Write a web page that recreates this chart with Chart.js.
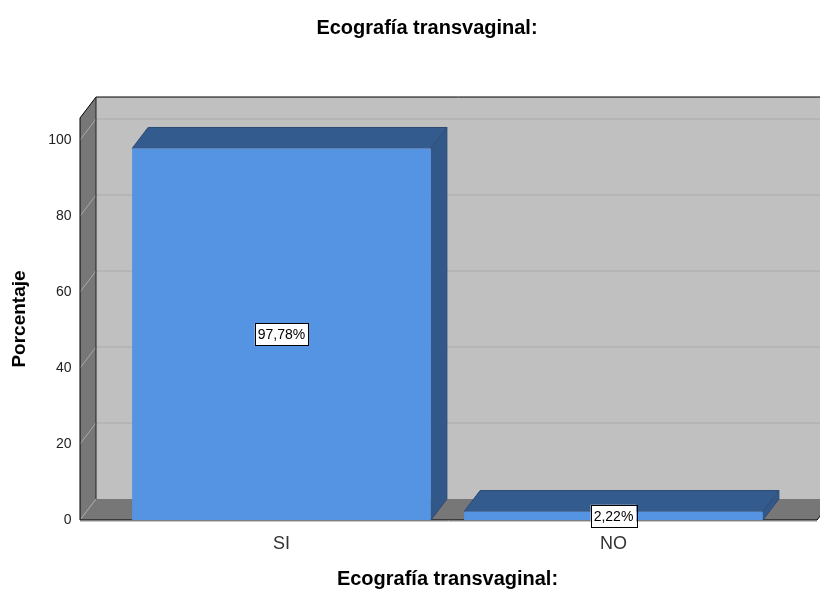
<!DOCTYPE html>
<html lang="es">
<head>
<meta charset="utf-8">
<title>Ecografía transvaginal</title>
<script src="https://cdn.jsdelivr.net/npm/chart.js@4.4.1/dist/chart.umd.min.js"></script>
<style>
    html, body { margin: 0; padding: 0; background: #fff; }
</style>
</head>
<body>
<canvas id="chart" width="820" height="591"></canvas>
<script>
const chartTitle = 'Ecografía transvaginal:';
const categories = ['SI', 'NO'];
const porcentajes = [97.78, 2.22];
const yTicks = [0, 20, 40, 60, 80, 100];
const yMax = 105.8;

const FONT = '"Liberation Sans", Arial, sans-serif';
const DX = 16, DY = 21;            // offset of the back plane
const PAD_L = 35.5, PAD_R = 37.5;  // front frame reaches past chartArea

function poly(ctx, pts, fill) {
    ctx.beginPath();
    ctx.moveTo(pts[0][0], pts[0][1]);
    pts.slice(1).forEach(p => ctx.lineTo(p[0], p[1]));
    ctx.closePath();
    ctx.fillStyle = fill;
    ctx.fill();
}

function line(ctx, x1, y1, x2, y2, color, w) {
    ctx.beginPath();
    ctx.moveTo(x1, y1);
    ctx.lineTo(x2, y2);
    ctx.strokeStyle = color;
    ctx.lineWidth = w || 1;
    ctx.stroke();
}

const box3d = {
    id: 'box3d',
    beforeDatasetsDraw(chart) {
        const { ctx, chartArea: a, scales: { y } } = chart;
        const fl = a.left - PAD_L, fr = a.right + PAD_R;
        const top = a.top, bot = a.bottom;
        ctx.save();

        // back wall + grid
        poly(ctx, [[fl + DX, top - DY], [fr + DX, top - DY], [fr + DX, bot - DY], [fl + DX, bot - DY]], '#c0c0c0');
        yTicks.filter(v => v > 0).forEach(v => {
            const yy = y.getPixelForValue(v) - DY;
            line(ctx, fl + DX, yy, fr + DX, yy, '#b2b2b2', 1.5);
        });

        // floor and left wall
        poly(ctx, [[fl, bot], [fr, bot], [fr + DX, bot - DY], [fl + DX, bot - DY]], '#777777');
        poly(ctx, [[fl, bot], [fl, top], [fl + DX, top - DY], [fl + DX, bot - DY]], '#777777');
        yTicks.forEach(v => {
            const yy = y.getPixelForValue(v);
            line(ctx, fl, yy, fl + DX, yy - DY, '#a8a8a8', 1);
        });

        // edges
        line(ctx, fl, top, fl + DX, top - DY, '#000');
        line(ctx, fl + DX, top - DY, fr + DX, top - DY, '#000');
        line(ctx, fl, top, fl, bot, '#000');
        line(ctx, fl + DX, top - DY, fl + DX, bot - DY, '#222');
        line(ctx, fl, bot, fr, bot, '#000');
        line(ctx, fr, bot, fr + DX, bot - DY, '#000');
        line(ctx, fl, bot + 1.5, fr, bot + 1.5, '#c8c8c8');

        // main title
        ctx.fillStyle = '#000';
        ctx.font = 'bold 20px ' + FONT;
        ctx.textAlign = 'center';
        ctx.textBaseline = 'middle';
        ctx.fillText(chartTitle, 427, 28);
        ctx.restore();
    },
    afterDatasetsDraw(chart) {
        const { ctx } = chart;
        const bars = chart.getDatasetMeta(0).data;
        ctx.save();
        bars.forEach((bar, i) => {
            const x0 = bar.x - bar.width / 2, x1 = bar.x + bar.width / 2;
            const yt = bar.y, yb = bar.base;
            // top and side faces
            poly(ctx, [[x0, yt], [x1, yt], [x1 + DX, yt - DY], [x0 + DX, yt - DY]], '#345b8d');
            poly(ctx, [[x1, yt], [x1 + DX, yt - DY], [x1 + DX, yb - DY], [x1, yb]], '#32588a');
            ctx.beginPath();
            ctx.moveTo(x0, yt);
            ctx.lineTo(x0 + DX, yt - DY);
            ctx.lineTo(x1 + DX, yt - DY);
            ctx.lineTo(x1 + DX, yb - DY);
            ctx.lineTo(x1, yb);
            ctx.moveTo(x1, yt);
            ctx.lineTo(x1 + DX, yt - DY);
            ctx.strokeStyle = '#2a4a74';
            ctx.lineWidth = 1;
            ctx.stroke();

            // value label
            const txt = porcentajes[i].toFixed(2).replace('.', ',') + '%';
            ctx.font = '14px ' + FONT;
            const w = ctx.measureText(txt).width + 6, h = 22;
            const cy = (yt + yb) / 2;
            ctx.fillStyle = '#fff';
            ctx.fillRect(bar.x - w / 2, cy - h / 2, w, h);
            ctx.strokeStyle = '#000';
            ctx.strokeRect(Math.round(bar.x - w / 2) + 0.5, Math.round(cy - h / 2) + 0.5, Math.round(w), h);
            ctx.fillStyle = '#000';
            ctx.textAlign = 'center';
            ctx.textBaseline = 'middle';
            ctx.fillText(txt, bar.x, cy + 1);
        });
        ctx.restore();
    }
};

new Chart(document.getElementById('chart'), {
    type: 'bar',
    data: {
        labels: categories,
        datasets: [{
            data: porcentajes,
            backgroundColor: '#5494e3',
            borderWidth: 0,
            barPercentage: 0.9,
            categoryPercentage: 1
        }]
    },
    options: {
        responsive: false,
        animation: false,
        layout: { padding: { left: 0, right: 40.5, top: 118, bottom: 0 } },
        plugins: {
            legend: { display: false },
            tooltip: { enabled: false }
        },
        scales: {
            x: {
                grid: { display: false, drawTicks: false },
                border: { display: false },
                ticks: { color: '#333', font: { family: FONT, size: 18 }, padding: 13 },
                title: {
                    display: true, text: chartTitle, color: '#000',
                    font: { family: FONT, size: 20, weight: 'bold' },
                    padding: { top: 0, bottom: 0 }
                },
                afterFit(s) { s.height = 71; }
            },
            y: {
                min: 0,
                max: yMax,
                afterBuildTicks(s) { s.ticks = yTicks.map(v => ({ value: v })); },
                grid: { display: false, drawTicks: false },
                border: { display: false },
                ticks: { color: '#222', font: { family: FONT, size: 14 }, padding: 44 },
                title: {
                    display: true, text: 'Porcentaje', color: '#000',
                    font: { family: FONT, size: 19, weight: 'bold' },
                    padding: { top: 8.6, bottom: 0 }
                },
                afterFit(s) { s.width = 115.5; }
            }
        }
    },
    plugins: [box3d]
});
</script>
</body>
</html>
